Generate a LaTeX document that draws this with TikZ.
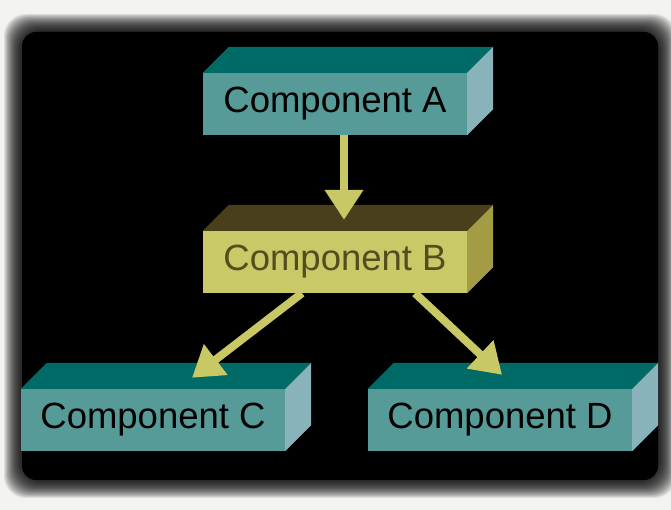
\documentclass[tikz,border=0pt]{standalone}
\usepackage{fontspec}
\setmainfont{Liberation Sans}
\usetikzlibrary{positioning, arrows.meta, calc}
\definecolor{paper}{RGB}{243,243,241}
\definecolor{tealfront}{RGB}{87,155,153}
\definecolor{tealtop}{RGB}{0,106,102}
\definecolor{tealside}{RGB}{136,179,187}
\definecolor{olivefront}{RGB}{201,201,104}
\definecolor{olivetop}{RGB}{74,63,29}
\definecolor{oliveside}{RGB}{163,156,69}
\definecolor{olivetext}{RGB}{87,76,31}
\definecolor{wire}{RGB}{200,200,100}
\newcommand{\slab}[3]{% top and side faces of a box node
  \fill[#2] (#1.north west) -- ++(26,26) -- ($(#1.north east)+(26,26)$) -- (#1.north east) -- cycle;
  \fill[#3] (#1.north east) -- ++(26,26) -- ($(#1.south east)+(26,26)$) -- (#1.south east) -- cycle;}

\begin{document}
\begin{tikzpicture}[x=1pt, y=1pt,
  comp/.style={fill=tealfront, minimum width=264pt, minimum height=62pt, inner sep=0pt,
    font=\fontsize{36.5}{40}\selectfont},
  hot/.style={comp, fill=olivefront, text=olivetext},
  link/.style={-{Triangle[width=37pt, length=30pt]}, wire, line width=8pt}]
\useasboundingbox[fill=paper] (0,0) rectangle (671,510);
% soft edge of the dark panel
\foreach \d in {18,17,...,1}
  \fill[black, opacity=0.09, rounded corners=22pt] (22-\d,30-\d) rectangle (658+\d,478+\d);
\fill[black, rounded corners=14pt] (22,30) rectangle (658,478);
\node[comp] (A) at (335,406) {Component A};
\node[hot] (B) at (335,248) {Component B};
\node[comp] (C) at (153,90) {Component C};
\node[comp] (D) at (500,90) {Component D};
\slab{A}{tealtop}{tealside}
\slab{B}{olivetop}{oliveside}
\slab{C}{tealtop}{tealside}
\slab{D}{tealtop}{tealside}
\draw[link] ([xshift=9pt]A.south) -- ([xshift=9pt, yshift=11pt]B.north);
\draw[link] ([xshift=-33pt]B.south) -- ([xshift=39pt, yshift=11pt]C.north);
\draw[link] ([xshift=80pt]B.south) -- ([xshift=2pt, yshift=14pt]D.north);
\end{tikzpicture}
\end{document}
